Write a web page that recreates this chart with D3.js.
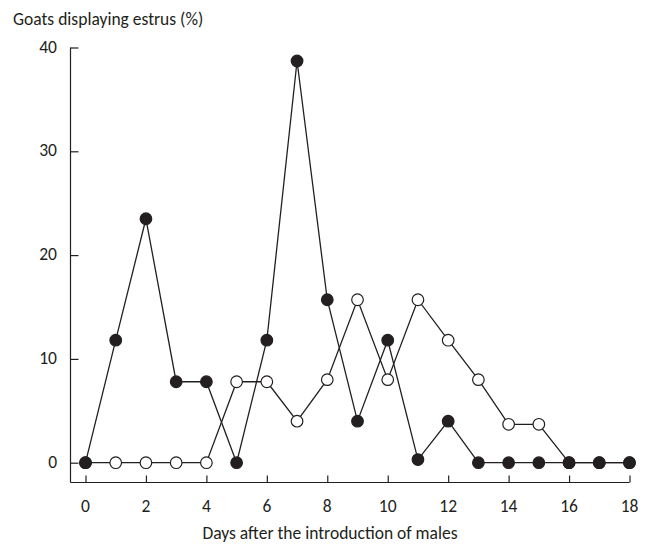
<!DOCTYPE html>
<html>
<head>
<meta charset="utf-8">
<script src="https://cdn.jsdelivr.net/npm/d3@7"></script>
<style>
  body { margin: 0; background: #fff; }
  svg text { font-family: Carlito, Lato, "Open Sans", sans-serif; fill: #231f20; }
</style>
</head>
<body>
<svg id="chart" width="650" height="544"></svg>
<script>
var days = d3.range(0, 19);
var filledValues = [0, 11.8, 23.5, 7.8, 7.8, 0, 11.8, 38.7, 15.7, 4.0, 11.8, 0.3, 4.0, 0, 0, 0, 0, 0, 0];
var openValues = [0, 0, 0, 0, 0, 7.8, 7.8, 4.0, 8.0, 15.7, 8.0, 15.7, 11.8, 8.0, 3.7, 3.7, 0, 0, 0];
var xTicks = [0, 2, 4, 6, 8, 10, 12, 14, 16, 18];
var yTicks = [0, 10, 20, 30, 40];

var svg = d3.select('#chart');
var ink = '#231f20';
var fontSize = 17.5;

var x = d3.scaleLinear().domain([0, 18]).range([85.5, 629.5]);
var y = d3.scaleLinear().domain([0, 40]).range([462.7, 47.5]);

// y axis: line down to the x axis, ticks pointing inward
var yAxis = svg.append('g')
    .attr('transform', 'translate(70.5,0)')
    .call(d3.axisRight(y).tickValues(yTicks).tickSize(8).tickFormat(''));
yAxis.select('.domain').remove();
yAxis.selectAll('line').attr('stroke', ink).attr('stroke-width', 1.2);
svg.append('line')
    .attr('x1', 70.5).attr('x2', 70.5)
    .attr('y1', y(40)).attr('y2', 482.5)
    .attr('stroke', ink).attr('stroke-width', 1.2);
svg.selectAll('.ylab').data(yTicks).enter().append('text')
    .attr('class', 'ylab')
    .attr('x', 57).attr('y', function(d) { return y(d) - 1; })
    .attr('text-anchor', 'end')
    .attr('dy', '0.35em')
    .attr('font-size', fontSize)
    .text(function(d) { return d; });

// x axis: offset below, ticks pointing up
var xAxis = svg.append('g')
    .attr('transform', 'translate(0,482.5)')
    .call(d3.axisTop(x).tickValues(xTicks).tickSize(7).tickFormat(''));
xAxis.select('.domain').remove();
xAxis.selectAll('line').attr('stroke', ink).attr('stroke-width', 1.2);
svg.append('line')
    .attr('x1', 70.5).attr('x2', x(18))
    .attr('y1', 482.5).attr('y2', 482.5)
    .attr('stroke', ink).attr('stroke-width', 1.2);
svg.selectAll('.xlab').data(xTicks).enter().append('text')
    .attr('class', 'xlab')
    .attr('x', function(d) { return x(d); }).attr('y', 506)
    .attr('text-anchor', 'middle')
    .attr('dy', '0.35em')
    .attr('font-size', fontSize)
    .text(function(d) { return d; });

svg.append('text')
    .attr('x', 13).attr('y', 25)
    .attr('font-size', fontSize)
    .text('Goats displaying estrus (%)');
svg.append('text')
    .attr('x', 330).attr('y', 539)
    .attr('text-anchor', 'middle')
    .attr('font-size', fontSize)
    .text('Days after the introduction of males');

var line = d3.line()
    .x(function(d) { return x(d[0]); })
    .y(function(d) { return y(d[1]); });

function drawSeries(values, fill) {
    var pts = days.map(function(d, i) { return [d, values[i]]; });
    svg.append('path')
        .datum(pts)
        .attr('d', line)
        .attr('fill', 'none')
        .attr('stroke', ink)
        .attr('stroke-width', 1.3);
    svg.append('g').selectAll('circle').data(pts).enter().append('circle')
        .attr('cx', function(d) { return x(d[0]); })
        .attr('cy', function(d) { return y(d[1]); })
        .attr('r', 5.8)
        .attr('fill', fill)
        .attr('stroke', ink)
        .attr('stroke-width', 1.2);
}

drawSeries(openValues, '#fff');
drawSeries(filledValues, ink);
</script>
</body>
</html>
